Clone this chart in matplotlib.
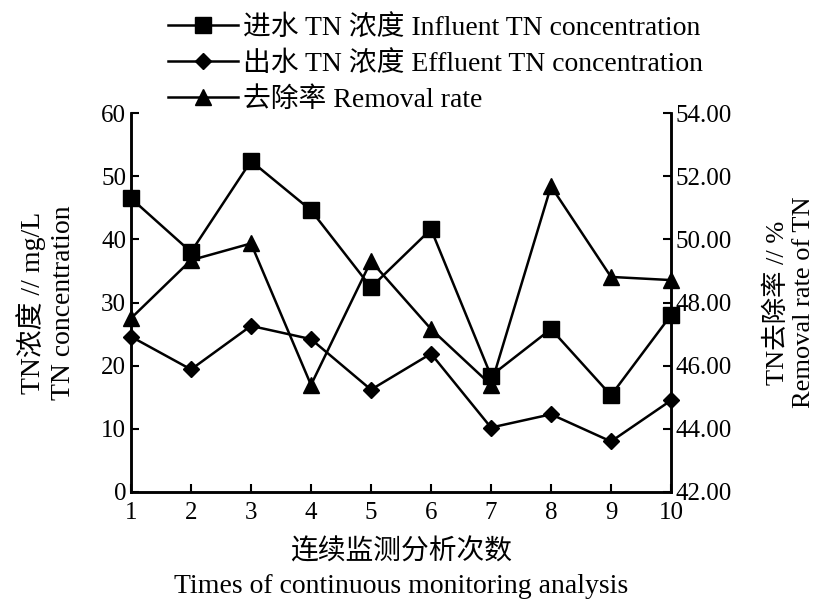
import matplotlib
matplotlib.use('Agg')
import matplotlib.pyplot as plt
from matplotlib.ticker import FormatStrFormatter

plt.rcParams['font.family'] = ['Liberation Serif', 'Noto Sans CJK SC']
plt.rcParams['font.size'] = 18

times = [1, 2, 3, 4, 5, 6, 7, 8, 9, 10]
influent = [46.5, 38.0, 52.4, 44.6, 32.4, 41.6, 18.4, 25.8, 15.3, 28.0]
effluent = [24.6, 19.4, 26.3, 24.2, 16.2, 21.9, 10.2, 12.3, 8.0, 14.5]
removal = [47.5, 49.34, 49.87, 45.39, 49.31, 47.16, 45.39, 51.68, 48.81, 48.71]

labels = ['进水 TN 浓度 Influent TN concentration',
          '出水 TN 浓度 Effluent TN concentration',
          '去除率 Removal rate']

fig = plt.figure(figsize=(8.25, 6.05), dpi=100)
ax = fig.add_axes([131/825, 113/605, 540/825, 379/605])
ax2 = ax.twinx()

l1, = ax.plot(times, influent, 'k-', marker='s', ms=11, lw=1.8, label=labels[0], clip_on=False)
l2, = ax.plot(times, effluent, 'k-', marker='D', ms=8.5, lw=1.8, label=labels[1], clip_on=False)
l3, = ax2.plot(times, removal, 'k-', marker='^', ms=11.5, lw=1.8, label=labels[2], clip_on=False)

ax.set_xlim(1, 10)
ax.set_ylim(0, 60)
ax2.set_ylim(42, 54)
ax.set_xticks(times)
ax.set_yticks(range(0, 61, 10))
ax2.set_yticks(range(42, 55, 2))
ax2.yaxis.set_major_formatter(FormatStrFormatter('%.2f'))

for a in (ax, ax2):
    a.spines['top'].set_visible(False)
    for s in a.spines.values():
        s.set_linewidth(1.8)
    a.tick_params(direction='in', width=1.5, length=6, labelsize=18)
ax.tick_params(axis='x', pad=7)

ax.set_xlabel('连续监测分析次数\nTimes of continuous monitoring analysis',
              fontsize=20, linespacing=1.45, labelpad=11)
ax.set_ylabel('TN浓度 // mg/L\nTN concentration', fontsize=20, linespacing=1.25, labelpad=18)
ax2.set_ylabel('TN去除率 // %\nRemoval rate of TN', fontsize=19, linespacing=1.25, labelpad=23)

fig.legend(handles=[l1, l2, l3], loc='upper left', bbox_to_anchor=(157/825, 1 - 4/605),
           frameon=False, fontsize=20, handlelength=2.5, handletextpad=0.2,
           labelspacing=0.36, borderaxespad=0)

fig.savefig('out.png', dpi=100)
